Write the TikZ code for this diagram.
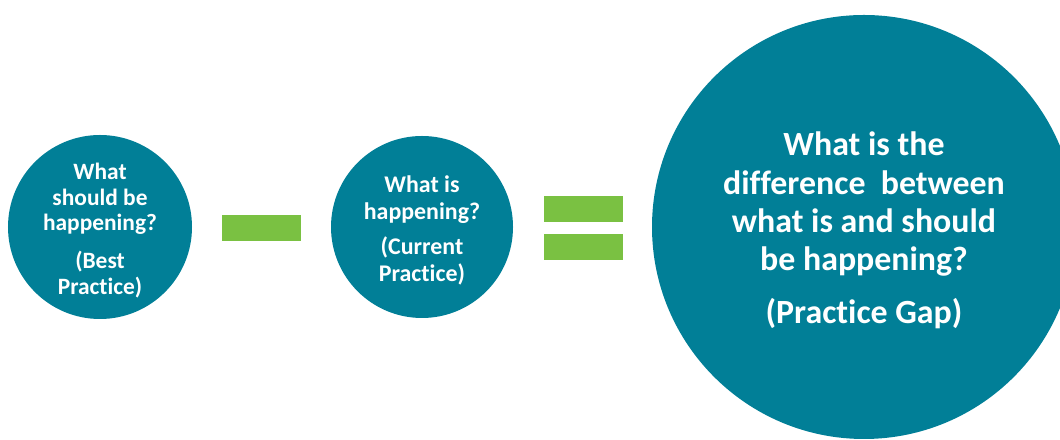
\documentclass[tikz,border=0pt]{standalone}
\usepackage{fontspec}
\setmainfont{Carlito}[Ligatures=NoCommon]
\usetikzlibrary{positioning}
\definecolor{gapTeal}{HTML}{017F97}
\definecolor{gapGreen}{HTML}{7AC142}

\begin{document}
\begin{tikzpicture}[x=1bp,y=1bp,
    bubble/.style={circle, fill=gapTeal, inner sep=0pt},
    qtext/.style={text=white, inner sep=0pt, align=center},
    bar/.style={fill=gapGreen, inner sep=0pt, minimum width=79bp, minimum height=26bp}]
  \useasboundingbox (0,0) rectangle (1060,440);
  \clip (0,0) rectangle (1060,440);
  % the three circles
  \node[bubble, minimum size=184bp] (best) at (100,213) {};
  \node[bubble, minimum size=182bp] (current) at (422,213) {};
  \node[bubble, minimum size=424bp] (gap) at (864,213) {};
  % their questions, set a little below centre
  \node[qtext, font=\bfseries\fontsize{23.5}{25.5}\selectfont] (bestq) at ([yshift=-3.5bp]best.center)
    {What\\should be\\happening?\\[13bp](Best\\Practice)};
  \node[qtext, font=\bfseries\fontsize{24}{27.5}\selectfont] (currentq) at ([yshift=-3.5bp]current.center)
    {What is\\happening?\\[7bp](Current\\Practice)};
  \node[qtext, font=\bfseries\fontsize{34}{38.3}\selectfont] (gapq) at ([yshift=-3.5bp]gap.center)
    {What is the\\difference~ between\\what is and should\\be happening?\\[15bp](Practice Gap)};
  % minus and equals signs
  \node[bar] (minus) at (261.5,212) {};
  \node[bar] (eqtop) at (583.5,230.5) {};
  \node[bar] (eqbot) at (583.5,193) {};
\end{tikzpicture}
\end{document}
